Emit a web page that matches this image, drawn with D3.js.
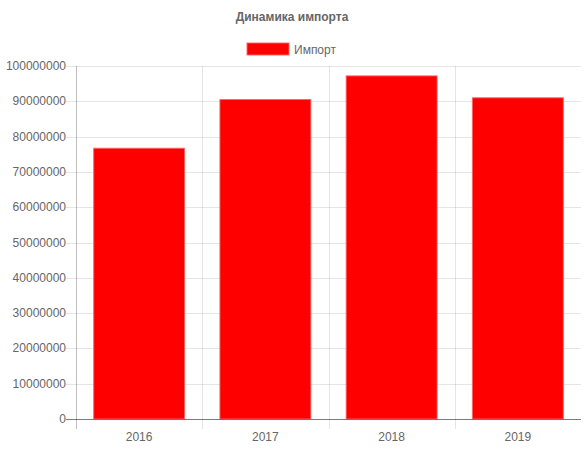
<!DOCTYPE html>
<html><head><meta charset="utf-8">
<script src="https://cdn.jsdelivr.net/npm/d3@7"></script>
<style>body{margin:0;background:#fff}svg{display:block}text{font-family:"Liberation Sans",Arial,Helvetica,sans-serif}</style>
</head><body><svg id="c" width="584" height="450"></svg>
<script>
const categories = ["2016","2017","2018","2019"];
const importValues = [76700000, 90500000, 97200000, 91000000];
const yTicks = [0,10000000,20000000,30000000,40000000,50000000,60000000,70000000,80000000,90000000,100000000];
const title = "Динамика импорта";
const seriesName = "Импорт";

const svg = d3.select("#c");
const m = {left:76, right:581, top:66, bottom:419};
const x = d3.scaleBand().domain(categories).range([m.left, m.right]).paddingInner(0).paddingOuter(0);
const y = d3.scaleLinear().domain([0,100000000]).range([m.bottom, m.top]);

// horizontal grid
svg.append("g").selectAll("line").data(yTicks).join("line")
  .attr("x1", m.left-10).attr("x2", m.right)
  .attr("y1", d=>Math.round(y(d))+0.5).attr("y2", d=>Math.round(y(d))+0.5)
  .attr("stroke", d=> d===0 ? "rgba(0,0,0,0.3)" : "rgba(0,0,0,0.1)");
// vertical grid
const vx = categories.map(c=>x(c));
svg.append("g").selectAll("line").data(vx).join("line")
  .attr("x1", d=>Math.round(d)+0.5).attr("x2", d=>Math.round(d)+0.5)
  .attr("y1", m.top).attr("y2", m.bottom+10)
  .attr("stroke", (d,i)=> i===0 ? "rgba(0,0,0,0.25)" : "rgba(0,0,0,0.1)");

// bars
const bw = x.bandwidth()*0.72;
svg.append("g").selectAll("rect").data(categories).join("rect")
  .attr("x", c=>x(c)+(x.bandwidth()-bw)/2)
  .attr("width", bw)
  .attr("y", (c,i)=>y(importValues[i]))
  .attr("height", (c,i)=>y(0)-y(importValues[i]))
  .attr("fill", "#ff0000")
  .attr("stroke", "rgba(255,99,99,0.9)").attr("stroke-width", 1);

// redraw zero axis line over bars
svg.append("line").attr("x1", m.left-10).attr("x2", m.right)
  .attr("y1", Math.round(y(0))+0.5).attr("y2", Math.round(y(0))+0.5)
  .attr("stroke", "rgba(0,0,0,0.3)");

// y labels
svg.append("g").selectAll("text").data(yTicks).join("text")
  .attr("x", m.left-10).attr("y", d=>y(d)+4)
  .attr("text-anchor","end").attr("font-size",12).attr("fill","#666")
  .text(d=>d3.format("d")(d));

// x labels
svg.append("g").selectAll("text").data(categories).join("text")
  .attr("x", c=>x(c)+x.bandwidth()/2).attr("y", 441)
  .attr("text-anchor","middle").attr("font-size",12).attr("fill","#666")
  .text(c=>c);

// title
svg.append("text").attr("x", 292).attr("y", 21).attr("text-anchor","middle")
  .attr("font-size",12).attr("font-weight","bold").attr("fill","#666").text(title);

// legend
svg.append("rect").attr("x",247).attr("y",43).attr("width",42).attr("height",12)
  .attr("fill","#ff0000").attr("stroke","rgba(255,99,99,0.9)");
svg.append("text").attr("x",294).attr("y",53.5).attr("font-size",12).attr("fill","#666").text(seriesName);
</script></body></html>
